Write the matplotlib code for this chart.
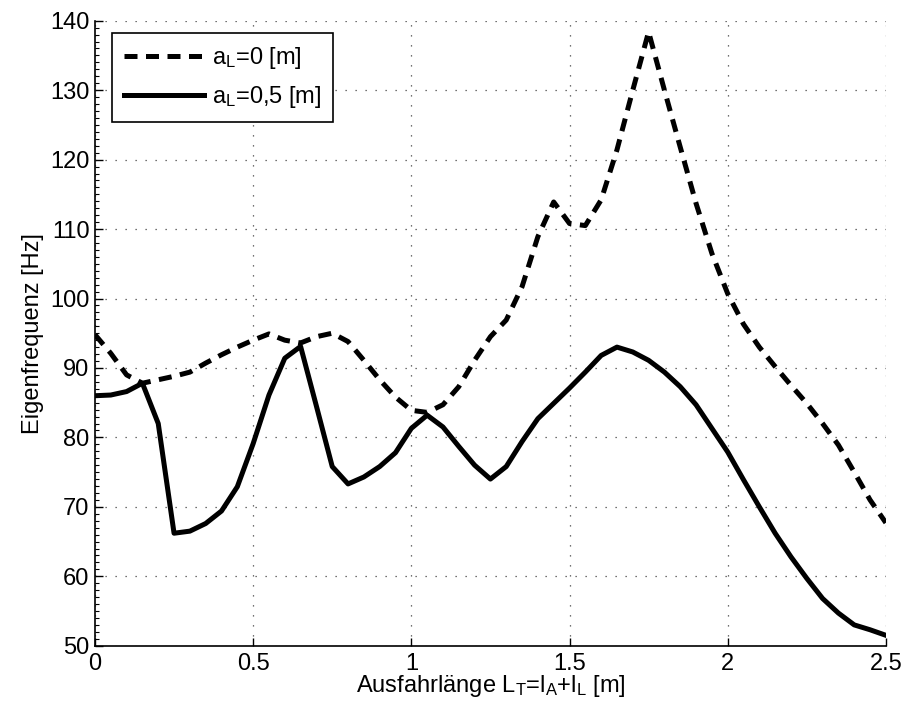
import numpy as np
import matplotlib
matplotlib.use("Agg")
import matplotlib.pyplot as plt
from matplotlib.ticker import MultipleLocator

plt.rcParams["font.family"] = ["Liberation Sans", "DejaVu Sans"]
plt.rcParams["mathtext.default"] = "regular"

# Ausfahrlaenge in 0.05 m steps
x_len = np.arange(51) * 0.05

# Eigenfrequenz [Hz], a_L = 0 m
f_a0 = [94.8, 92.1, 89.0, 87.8, 88.3, 88.8, 89.4, 90.7, 91.9, 93.0,
        94.0, 94.9, 94.0, 93.6, 94.5, 95.0, 93.8, 91.1, 88.3, 85.8,
        83.9, 83.6, 84.7, 87.3, 91.1, 94.5, 96.9, 101.7, 108.9, 113.9,
        110.8, 110.5, 114.2, 121.4, 130.0, 138.4, 130.0, 121.8, 113.7, 106.5,
        100.7, 96.3, 93.0, 90.2, 87.5, 84.9, 82.0, 78.9, 75.0, 71.0,
        67.7]

# Eigenfrequenz [Hz], a_L = 0.5 m
f_a05 = [86.0, 86.1, 86.6, 87.8, 82.0, 66.2, 66.5, 67.6, 69.4, 72.9,
         79.1, 86.1, 91.4, 93.1, 84.5, 75.8, 73.3, 74.3, 75.8, 77.8,
         81.3, 83.2, 81.5, 78.7, 76.0, 74.0, 75.8, 79.4, 82.7, 84.9,
         87.1, 89.4, 91.8, 93.0, 92.3, 91.1, 89.4, 87.3, 84.7, 81.3,
         77.9, 73.9, 70.0, 66.2, 62.8, 59.7, 56.8, 54.7, 53.0, 52.3,
         51.5]

FS = 17

fig = plt.figure(figsize=(9.07, 7.17), dpi=100)
ax = fig.add_axes([0.1047, 0.0994, 0.872, 0.8717])

ax.plot(x_len, f_a0, color="black", lw=3.6, linestyle=(0, (2.6, 1.7)),
        label="$a_L$=0 [m]")
ax.plot(x_len, f_a05, color="black", lw=3.6, label="$a_L$=0,5 [m]")

ax.set_xlim(0, 2.5)
ax.set_ylim(50, 140)
ax.yaxis.set_major_locator(MultipleLocator(10))
ax.yaxis.set_minor_locator(MultipleLocator(1))
ax.set_xticks([0, 0.5, 1, 1.5, 2, 2.5])
ax.set_xticklabels(["0", "0.5", "1", "1.5", "2", "2.5"])

ax.tick_params(which="both", direction="in", labelsize=FS, colors="black",
               top=False, right=False)
ax.tick_params(which="major", length=6, width=1)
ax.tick_params(which="minor", length=3, width=0.8)
ax.tick_params(axis="x", pad=5)
ax.tick_params(axis="y", pad=4)

for side in ("top", "right"):
    ax.spines[side].set_visible(False)
for side in ("left", "bottom"):
    ax.spines[side].set_linewidth(1.2)

ax.grid(True, which="major", color="#444444", linestyle=(0, (1, 7)), lw=0.9)

ax.set_xlabel("Ausfahrlänge $L_T$=$l_A$+$l_L$ [m]", fontsize=FS, labelpad=-1)
ax.set_ylabel("Eigenfrequenz [Hz]", fontsize=FS, labelpad=4)

leg = ax.legend(loc="upper left", bbox_to_anchor=(0.022, 0.98), fontsize=FS,
                fancybox=False, framealpha=1, edgecolor="black",
                handlelength=3.4, borderpad=0.5, labelspacing=0.55,
                handletextpad=0.3, borderaxespad=0)
leg.get_frame().set_linewidth(1.2)

fig.savefig("out.png", dpi=100)
